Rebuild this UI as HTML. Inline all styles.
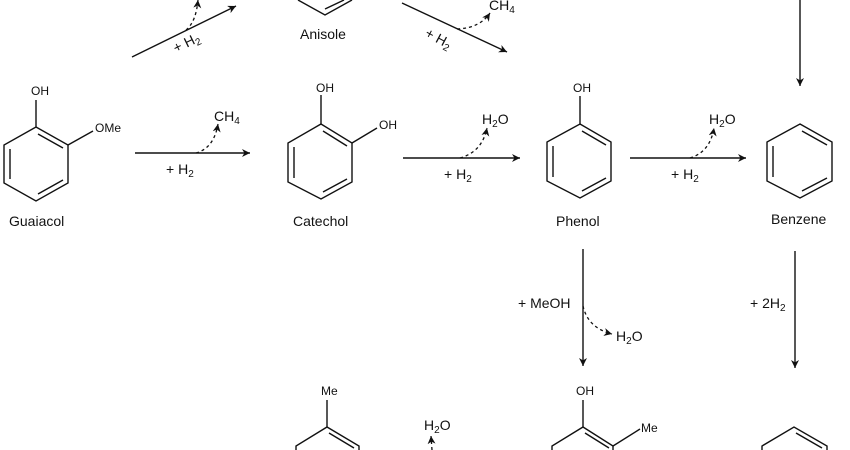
<!DOCTYPE html>
<html><head><meta charset="utf-8"><style>
html,body{margin:0;padding:0;background:#fff;width:850px;height:450px;overflow:hidden}
svg text{font-family:"Liberation Sans",Arial,sans-serif;fill:#111}
</style></head><body>
<svg width="850" height="450" viewBox="0 0 850 450" xmlns="http://www.w3.org/2000/svg">
<defs>
<marker id="ah" viewBox="0 0 10 10" refX="10" refY="5" markerWidth="10" markerHeight="8" markerUnits="userSpaceOnUse" orient="auto"><path d="M0,0 L10,5 L0,10 L3,5 z" fill="#111"/></marker>
<marker id="ahs" viewBox="0 0 10 10" refX="10" refY="5" markerWidth="8" markerHeight="8" markerUnits="userSpaceOnUse" orient="auto"><path d="M0,0 L10,5 L0,10 L3,5 z" fill="#111"/></marker>
</defs>
<g stroke="#111" stroke-width="1.4" fill="none">
<!-- Guaiacol -->
<polygon points="36,127 68,145 68,183 36,201 4,183 4,145"/>
<line x1="38" y1="134" x2="63" y2="148"/><line x1="10" y1="149" x2="10" y2="179"/><line x1="38" y1="194" x2="63" y2="180"/>
<line x1="36" y1="127" x2="36" y2="100"/><line x1="68" y1="145" x2="93" y2="131"/>
<!-- Catechol -->
<polygon points="321,124 352,143 352,182 321,199 288,182 288,143"/>
<line x1="323" y1="131" x2="347" y2="146"/><line x1="294" y1="147" x2="294" y2="178"/><line x1="323" y1="192" x2="347" y2="179"/>
<line x1="321" y1="124" x2="321" y2="95"/><line x1="352" y1="143" x2="377" y2="128"/>
<!-- Phenol -->
<polygon points="580,124 611,142 611,181 580,198 547,181 547,142"/>
<line x1="582" y1="131" x2="606" y2="145"/><line x1="553" y1="146" x2="553" y2="177"/><line x1="582" y1="191" x2="606" y2="178"/>
<line x1="580" y1="124" x2="580" y2="96"/>
<!-- Benzene -->
<polygon points="800,124 832,142 832,181 800,198 767,181 767,142"/>
<line x1="802" y1="131" x2="827" y2="145"/><line x1="773" y1="146" x2="773" y2="177"/><line x1="802" y1="191" x2="827" y2="178"/>
<!-- Anisole partial -->
<polyline points="298,0 325,15 352,0"/><line x1="325" y1="9" x2="344" y2="0"/>
<!-- bottom partial rings -->
<polyline points="296,450 296,446 327,427 359,446 359,450"/><line x1="329" y1="433" x2="354" y2="448"/><line x1="327" y1="427" x2="327" y2="400"/>
<polyline points="552,450 552,446 583,427 613,446 613,450"/><line x1="585" y1="433" x2="609" y2="448"/><line x1="583" y1="427" x2="583" y2="400"/><line x1="613" y1="446" x2="640" y2="429"/>
<polyline points="762,450 762,446 794,427 827,446 827,450"/><line x1="796" y1="433" x2="822" y2="448"/>
<!-- arrows -->
<line x1="135" y1="153" x2="250" y2="153" marker-end="url(#ah)"/>
<line x1="403" y1="158" x2="520" y2="158" marker-end="url(#ah)"/>
<line x1="630" y1="158" x2="746" y2="158" marker-end="url(#ah)"/>
<line x1="132" y1="57" x2="236" y2="6" marker-end="url(#ah)"/>
<line x1="402" y1="3" x2="507" y2="52" marker-end="url(#ah)"/>
<line x1="800" y1="0" x2="800" y2="86" marker-end="url(#ah)"/>
<line x1="583" y1="249" x2="583" y2="366" marker-end="url(#ah)"/>
<line x1="795" y1="251" x2="795" y2="368" marker-end="url(#ah)"/>
</g>
<g stroke="#111" stroke-width="1.3" fill="none" stroke-dasharray="3,3">
<path d="M196,153 Q214,148 218,124" marker-end="url(#ahs)"/>
<path d="M460,158 Q482,152 487,128" marker-end="url(#ahs)"/>
<path d="M690,158 Q710,152 714,128" marker-end="url(#ahs)"/>
<path d="M186,30 Q196,22 198,0" marker-end="url(#ahs)"/>
<path d="M457,29 Q480,28 490,13" marker-end="url(#ahs)"/>
<path d="M583,306 Q588,328 612,334" marker-end="url(#ahs)"/>
<path d="M432,450 L431,436" marker-end="url(#ahs)"/>
</g>
<g font-size="12">
<text x="31" y="95">OH</text>
<text x="95" y="132">OMe</text>
<text x="316" y="92">OH</text>
<text x="379" y="129">OH</text>
<text x="573" y="92">OH</text>
<text x="321" y="395">Me</text>
<text x="576" y="395">OH</text>
<text x="641" y="432">Me</text>
</g>
<g font-size="14">
<text x="9" y="226">Guaiacol</text>
<text x="293" y="226">Catechol</text>
<text x="556" y="226">Phenol</text>
<text x="771" y="224">Benzene</text>
<text x="300" y="39">Anisole</text>
<text x="166" y="174">+ H<tspan font-size="10" dy="3">2</tspan></text>
<text x="214" y="121">CH<tspan font-size="10" dy="3">4</tspan></text>
<text x="444" y="179">+ H<tspan font-size="10" dy="3">2</tspan></text>
<text x="482" y="124">H<tspan font-size="10" dy="3">2</tspan><tspan dy="-3">O</tspan></text>
<text x="671" y="179">+ H<tspan font-size="10" dy="3">2</tspan></text>
<text x="709" y="124">H<tspan font-size="10" dy="3">2</tspan><tspan dy="-3">O</tspan></text>
<text x="489" y="10">CH<tspan font-size="10" dy="3">4</tspan></text>
<text transform="translate(176,53) rotate(-26)">+ H<tspan font-size="10" dy="3">2</tspan></text>
<text transform="translate(424,36) rotate(28)">+ H<tspan font-size="10" dy="3">2</tspan></text>
<text x="518" y="308">+ MeOH</text>
<text x="616" y="341">H<tspan font-size="10" dy="3">2</tspan><tspan dy="-3">O</tspan></text>
<text x="750" y="308">+ 2H<tspan font-size="10" dy="3">2</tspan></text>
<text x="424" y="430">H<tspan font-size="10" dy="3">2</tspan><tspan dy="-3">O</tspan></text>
</g>
</svg>
</body></html>
